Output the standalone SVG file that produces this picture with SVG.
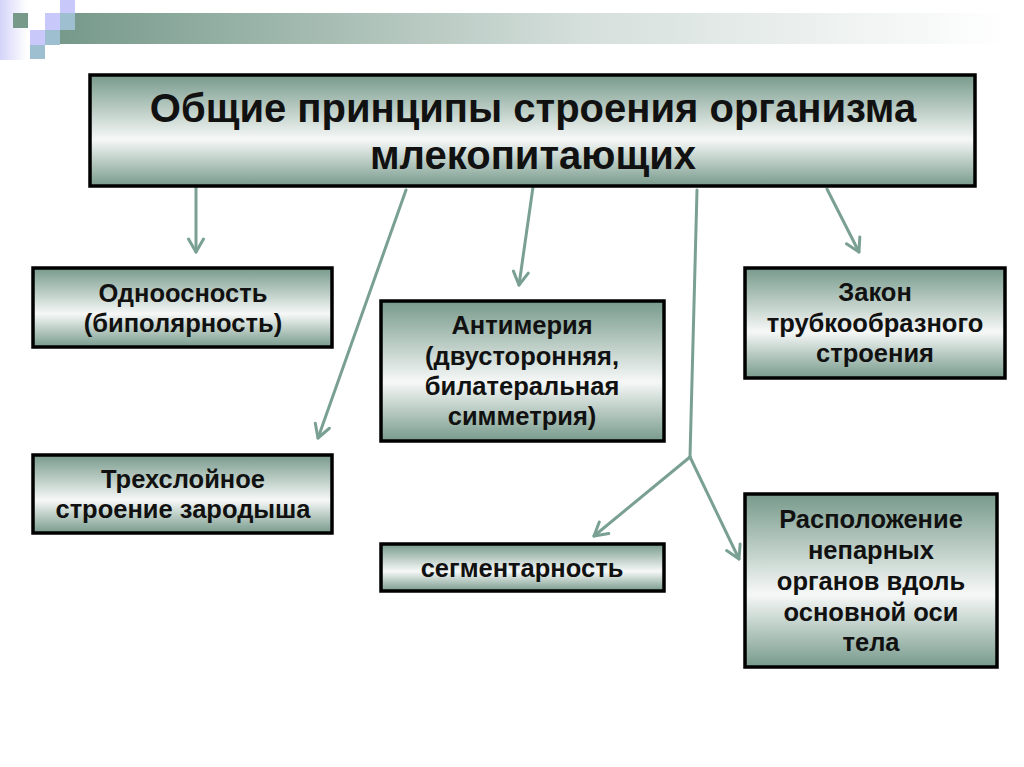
<svg xmlns="http://www.w3.org/2000/svg" width="1024" height="767" viewBox="0 0 1024 767">
<defs>
<linearGradient id="boxg" x1="0" y1="0" x2="0" y2="1">
<stop offset="0" stop-color="#779a8b"/>
<stop offset="0.58" stop-color="#f6f8f7"/>
<stop offset="1" stop-color="#779a8b"/>
</linearGradient>
<linearGradient id="barg" x1="0" y1="0" x2="1" y2="0">
<stop offset="0" stop-color="#76998a"/>
<stop offset="0.55" stop-color="#d5dfdb"/>
<stop offset="1" stop-color="#ffffff"/>
</linearGradient>
<linearGradient id="strip" x1="0" y1="0" x2="1" y2="0">
<stop offset="0" stop-color="#d4d4fa"/>
<stop offset="1" stop-color="#ffffff"/>
</linearGradient>
<marker id="ah" markerUnits="userSpaceOnUse" markerWidth="22" markerHeight="22" viewBox="0 0 22 22" refX="18" refY="11" orient="auto">
<path d="M5,3.5 L18,11 L5,18.5" fill="none" stroke="#7aa093" stroke-width="3" stroke-linecap="round" stroke-linejoin="round"/>
</marker>
<style>
.box{fill:url(#boxg);stroke:#000;stroke-width:3.5}
.t{font-family:"Liberation Sans",Arial,sans-serif;font-weight:bold;fill:#111;text-anchor:middle}
.tt{font-size:40px}
.bt{font-size:25.5px}
.c{fill:none;stroke:#7aa093;stroke-width:3;stroke-linecap:round}
</style>
</defs>
<rect width="1024" height="767" fill="#ffffff"/>
<g id="header">
<rect x="0" y="0" width="27" height="60" fill="url(#strip)"/>
<rect x="60" y="13" width="950" height="31" fill="url(#barg)"/>
<rect x="13" y="13" width="15" height="15" fill="#76998a"/>
<rect x="30" y="30" width="15" height="15" fill="#c8c8fa"/>
<rect x="30" y="45" width="15" height="14" fill="#9dbfd0"/>
<rect x="45" y="13" width="15" height="17" fill="#c8c8fa"/>
<rect x="45" y="30" width="15" height="15" fill="#9dbfd0"/>
<rect x="60" y="0" width="15" height="13" fill="#c8c8fa"/>
<rect x="60" y="13" width="15" height="17" fill="#9dbfd0"/>
</g>
<g id="connectors">
<line class="c" x1="196" y1="186" x2="196" y2="252" marker-end="url(#ah)"/>
<line class="c" x1="406" y1="190" x2="318" y2="438" marker-end="url(#ah)"/>
<line class="c" x1="533" y1="187" x2="519" y2="285" marker-end="url(#ah)"/>
<line class="c" x1="827" y1="189" x2="859" y2="252" marker-end="url(#ah)"/>
<polyline class="c" points="697,190 690,457"/>
<line class="c" x1="690" y1="457" x2="594" y2="536" marker-end="url(#ah)"/>
<line class="c" x1="690" y1="457" x2="739" y2="559" marker-end="url(#ah)"/>
</g>
<g id="title">
<rect class="box" x="90" y="75" width="885" height="111"/>
<text class="t tt" x="533" y="122">Общие принципы строения организма</text>
<text class="t tt" x="533" y="169">млекопитающих</text>
</g>
<g id="n1">
<rect class="box" x="33" y="268" width="299" height="79"/>
<text class="t bt" x="183" y="302">Одноосность</text>
<text class="t bt" x="183" y="332">(биполярность)</text>
</g>
<g id="n2">
<rect class="box" x="381" y="301" width="283" height="140"/>
<text class="t bt" x="522" y="334">Антимерия</text>
<text class="t bt" x="522" y="365">(двусторонняя,</text>
<text class="t bt" x="522" y="395">билатеральная</text>
<text class="t bt" x="522" y="425">симметрия)</text>
</g>
<g id="n3">
<rect class="box" x="745" y="268" width="260" height="110"/>
<text class="t bt" x="875" y="301">Закон</text>
<text class="t bt" x="875" y="332">трубкообразного</text>
<text class="t bt" x="875" y="362">строения</text>
</g>
<g id="n4">
<rect class="box" x="33" y="455" width="299" height="78"/>
<text class="t bt" x="183" y="488">Трехслойное</text>
<text class="t bt" x="183" y="518">строение зародыша</text>
</g>
<g id="n5">
<rect class="box" x="381" y="544" width="283" height="47"/>
<text class="t bt" x="522" y="577">сегментарность</text>
</g>
<g id="n6">
<rect class="box" x="745" y="494" width="252" height="173"/>
<text class="t bt" x="871" y="528">Расположение</text>
<text class="t bt" x="871" y="559">непарных</text>
<text class="t bt" x="871" y="590">органов вдоль</text>
<text class="t bt" x="871" y="621">основной оси</text>
<text class="t bt" x="871" y="651">тела</text>
</g>
</svg>
